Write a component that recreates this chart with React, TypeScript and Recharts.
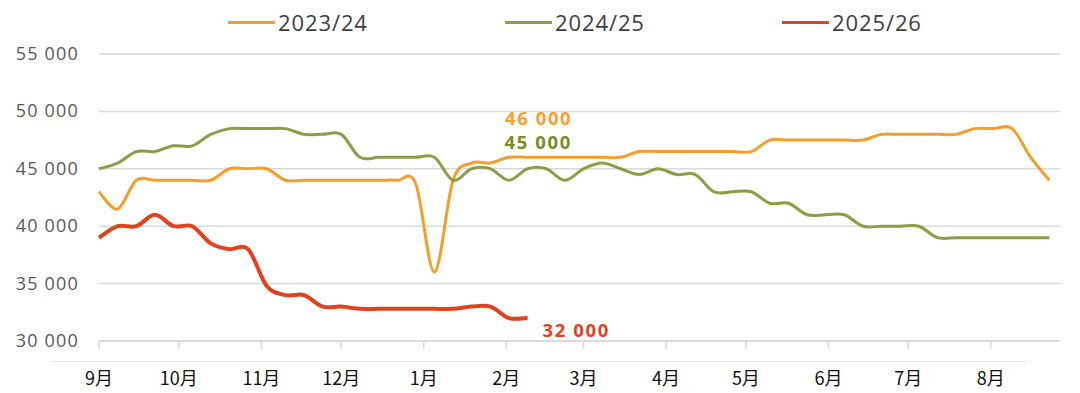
import React from 'react';
import { LineChart, Line, XAxis, YAxis, CartesianGrid, Legend } from 'recharts';

// days since 1 Sep, weekly
const days = [
  0, 7, 14, 21, 28, 35, 42, 49, 56, 63, 70, 77, 84, 91, 98, 105, 112, 119, 126, 133,
  140, 147, 154, 161, 168, 175, 182, 189, 196, 203, 210, 217, 224, 231, 238, 245, 252, 259, 266, 273,
  280, 287, 294, 301, 308, 315, 322, 329, 336, 343, 350, 357,
];

const season2324 = [
  43000, 41500, 44000, 44000, 44000, 44000, 44000, 45000, 45000, 45000,
  44000, 44000, 44000, 44000, 44000, 44000, 44000, 43700, 36000, 44000,
  45500, 45500, 46000, 46000, 46000, 46000, 46000, 46000, 46000, 46500,
  46500, 46500, 46500, 46500, 46500, 46500, 47500, 47500, 47500, 47500,
  47500, 47500, 48000, 48000, 48000, 48000, 48000, 48500, 48500, 48500,
  46000, 44000,
];

const season2425 = [
  45000, 45500, 46500, 46500, 47000, 47000, 48000, 48500, 48500, 48500,
  48500, 48000, 48000, 48000, 46000, 46000, 46000, 46000, 46000, 44000,
  45000, 45000, 44000, 45000, 45000, 44000, 45000, 45500, 45000, 44500,
  45000, 44500, 44500, 43000, 43000, 43000, 42000, 42000, 41000, 41000,
  41000, 40000, 40000, 40000, 40000, 39000, 39000, 39000, 39000, 39000,
  39000, 39000,
];

const season2526 = [
  39000, 40000, 40000, 41000, 40000, 40000, 38500, 38000, 38000, 34800,
  34000, 34000, 33000, 33000, 32800, 32800, 32800, 32800, 32800, 32800,
  33000, 33000, 32000, 32000,
];

const seriesNames = ['2023/24', '2024/25', '2025/26'];
const seriesColors = ['#F59E2B', '#8D9C45', '#E2401F'];
const calloutColors = ['#F5A032', '#7C8C22', '#E2401F'];

const monthStarts = [0, 30, 61, 91, 122, 153, 182, 213, 243, 274, 304, 335];
const monthLabels = ['9月', '10月', '11月', '12月', '1月', '2月', '3月', '4月', '5月', '6月', '7月', '8月'];
const yTicks = [30000, 35000, 40000, 45000, 50000, 55000];

const data = days.map((d, i) => ({
  day: d,
  s1: season2324[i] ?? null,
  s2: season2425[i] ?? null,
  s3: season2526[i] ?? null,
}));

const fmt = (v: number) => String(v).replace(/\B(?=(\d{3})+(?!\d))/g, ' ');

// excel-like smoothed line (catmull-rom as bezier)
const excelSmooth = (context: any) => {
  let pts: number[][] = [];
  return {
    areaStart() {},
    areaEnd() {},
    lineStart() { pts = []; },
    point(x: number, y: number) { pts.push([+x, +y]); },
    lineEnd() {
      const n = pts.length;
      if (!n) return;
      context.moveTo(pts[0][0], pts[0][1]);
      for (let i = 0; i < n - 1; i++) {
        const p0 = pts[Math.max(i - 1, 0)];
        const p1 = pts[i];
        const p2 = pts[i + 1];
        const p3 = pts[Math.min(i + 2, n - 1)];
        context.bezierCurveTo(
          p1[0] + (p2[0] - p0[0]) / 6, p1[1] + (p2[1] - p0[1]) / 6,
          p2[0] - (p3[0] - p1[0]) / 6, p2[1] - (p3[1] - p1[1]) / 6,
          p2[0], p2[1],
        );
      }
    },
  };
};

const YTick = ({ x, y, payload }: any) => (
  <text x={x} y={y + 6} textAnchor="end" fill="#595959" fontFamily="Open Sans" fontSize={18} letterSpacing={1.2}>
    {fmt(payload.value)}
  </text>
);

const XTick = ({ x, y, payload }: any) => {
  const idx = monthStarts.indexOf(payload.value);
  return (
    <text x={x} y={y + 34} textAnchor="middle" fill="#111" fontFamily="Noto Sans CJK SC" fontSize={18}>
      {monthLabels[idx]}
    </text>
  );
};

// value callout drawn at one point of a series
const callout = (series: number, index: number, dx: number, dy: number) => (p: any) => {
  const key = `c${series}-${p.index}`;
  if (p.index !== index) return <g key={key} />;
  const vals = [season2324, season2425, season2526][series];
  return (
    <text key={key} x={p.cx + dx} y={p.cy + dy} fill={calloutColors[series]} fontFamily="Open Sans"
      fontWeight={700} fontSize={18.5} letterSpacing={1.6}>
      {fmt(vals[index])}
    </text>
  );
};

const renderLegend = () => (
  <div style={{ position: 'relative', height: 40, width: 1080 }}>
    {seriesNames.map((name, i) => (
      <div key={name} style={{ position: 'absolute', left: 228 + i * 277, top: 0, height: 16, display: 'flex', alignItems: 'center' }}>
        <span style={{ display: 'inline-block', width: 47, height: 3, background: seriesColors[i] }} />
        <span style={{ marginLeft: 3, fontFamily: 'Open Sans', fontSize: 22, lineHeight: '16px', color: '#404040', letterSpacing: 0.9, whiteSpace: 'nowrap' }}>
          {name}
        </span>
      </div>
    ))}
  </div>
);

export default function App() {
  return (
    <div style={{ position: 'absolute', left: 0, top: 0, width: 1080, height: 393, background: '#fff' }}>
      <LineChart width={1080} height={393} data={data} margin={{ top: 14, right: 20, bottom: 12, left: 0 }}>
        <CartesianGrid vertical={false} stroke="#d9d9d9" strokeWidth={1.5} />
        <Legend verticalAlign="top" height={40} content={renderLegend} wrapperStyle={{ left: 0, width: 1080 }} />
        <XAxis
          dataKey="day"
          type="number"
          domain={[0, 361]}
          ticks={monthStarts}
          tick={<XTick />}
          tickSize={8}
          tickLine={{ stroke: '#d9d9d9', strokeWidth: 1.5 }}
          axisLine={{ stroke: '#d9d9d9', strokeWidth: 1.5 }}
          height={40}
          interval={0}
        />
        <YAxis
          domain={[30000, 55000]}
          ticks={yTicks}
          width={99}
          tick={<YTick />}
          tickSize={0}
          tickMargin={20}
          axisLine={false}
          tickLine={false}
          interval={0}
        />
        <Line type={excelSmooth as any} dataKey="s1" name={seriesNames[0]} stroke={seriesColors[0]} strokeWidth={3}
          dot={callout(0, 22, -4, -32)} activeDot={false} isAnimationActive={false} />
        <Line type={excelSmooth as any} dataKey="s2" name={seriesNames[1]} stroke={seriesColors[1]} strokeWidth={3}
          dot={callout(1, 23, -23, -20)} activeDot={false} isAnimationActive={false} />
        <Line type={excelSmooth as any} dataKey="s3" name={seriesNames[2]} stroke={seriesColors[2]} strokeWidth={4}
          dot={callout(2, season2526.length - 1, 15, 19)} activeDot={false} isAnimationActive={false} />
      </LineChart>
      <div style={{ position: 'absolute', left: 52, top: 361, width: 975, height: 1, background: '#e6e6e6' }} />
    </div>
  );
}
